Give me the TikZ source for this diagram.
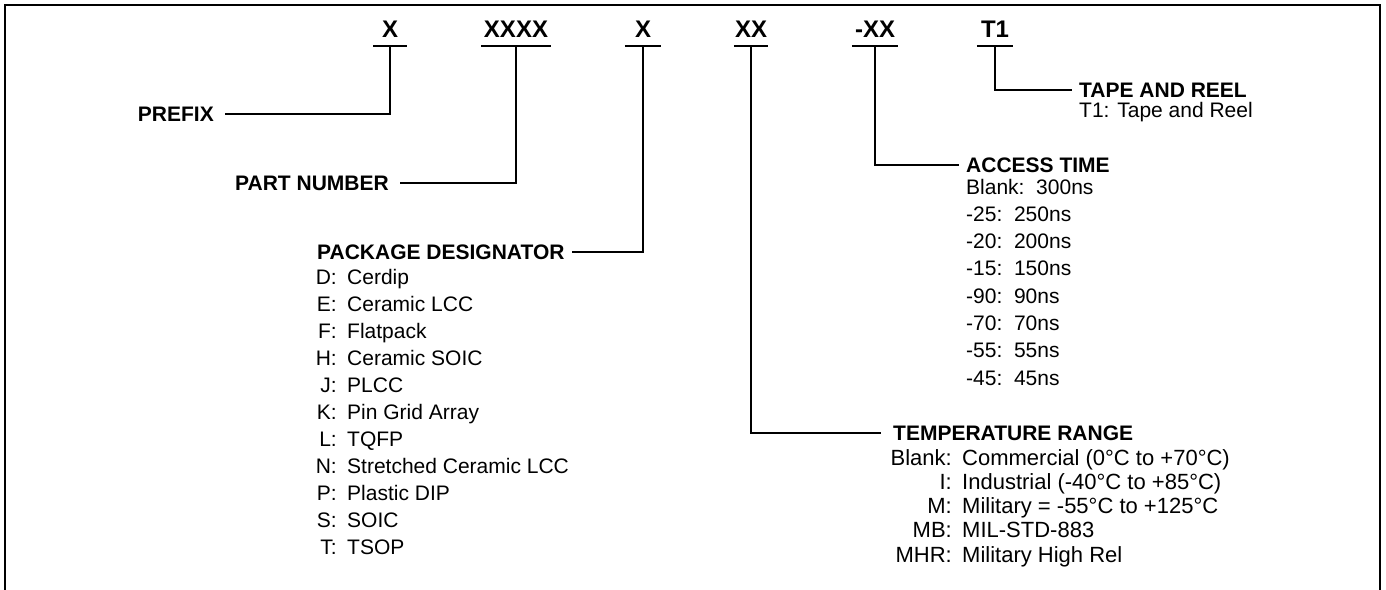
\documentclass[tikz,border=0pt]{standalone}
\usepackage{fontspec}
\setmainfont{Liberation Sans}
\begin{document}
\begin{tikzpicture}[x=1pt,y=-1pt,
  frame/.style={line width=2.4pt, line join=miter},
  conn/.style={line width=1.7pt},
  uline/.style={line width=2pt},
  code/.style={font=\fontsize{24}{24}\selectfont\bfseries, inner sep=0pt, text depth=8pt, anchor=south},
  hd/.style={font=\fontsize{21}{25}\selectfont\bfseries, inner ysep=0pt, inner xsep=7pt},
  txt/.style={font=\fontsize{21}{25}\selectfont, inner sep=0pt},
  ttxt/.style={font=\fontsize{22}{25}\selectfont, inner sep=0pt}]
\useasboundingbox (0,0) rectangle (1386,589);
% frame (open at the bottom)
\draw[frame] (5,590) -- (5,4.7) -- (1380,4.7) -- (1380,590);

% code fields
\node[code, minimum width=33pt] (c1) at (390,46) {X};
\node[code, minimum width=69pt] (c2) at (516,46) {XXXX};
\node[code, minimum width=36pt] (c3) at (643,46) {X};
\node[code, minimum width=34pt] (c4) at (751,46) {XX};
\node[code, minimum width=46pt] (c5) at (875,46) {-XX};
\node[code, minimum width=36pt] (c6) at (995,46) {T1};
\foreach \c in {c1,c2,c3,c4,c5,c6}
  \draw[uline] (\c.south west) -- (\c.south east);

% headings
\node[hd, inner xsep=11pt, anchor=base east] (prefix) at (225,121) {PREFIX};
\node[hd, inner xsep=11pt, anchor=base east] (part) at (400,190) {PART NUMBER};
\node[hd, anchor=base west] (pkg) at (310,259) {PACKAGE DESIGNATOR};
\node[hd, inner xsep=12pt, anchor=base west] (temp) at (881,440) {TEMPERATURE RANGE};
\node[hd, anchor=base west] (acc) at (959,172) {ACCESS TIME};
\node[hd, anchor=base west] (tape) at (1072,97) {TAPE AND REEL};

% connectors
\draw[conn] (c1.south) |- (prefix.east);
\draw[conn] (c2.south) |- (part.east);
\draw[conn] (c3.south) |- (pkg.east);
\draw[conn] (c4.south) |- (temp.west);
\draw[conn] (c5.south) |- (acc.west);
\draw[conn] (c6.south) |- (tape.west);

% tape and reel
\node[txt, anchor=base west] (tape1) at (1079,117) {T1: Tape and Reel};

% package designator list
\foreach \l/\d [count=\i from 0] in {D/Cerdip, E/Ceramic LCC, F/Flatpack, H/Ceramic SOIC, J/PLCC, K/Pin Grid Array, L/TQFP, N/Stretched Ceramic LCC, P/Plastic DIP, S/SOIC, T/TSOP}{
  \node[txt, anchor=base east] (pkl\i) at (337,{284.5+27*\i}) {\l:};
  \node[txt, anchor=base west] (pkd\i) at (347,{284.5+27*\i}) {\d};
}

% access time list
\foreach \t [count=\i from 0] in {Blank:\ \ 300ns, -25:\ \ 250ns, -20:\ \ 200ns, -15:\ \ 150ns, -90:\ \ 90ns, -70:\ \ 70ns, -55:\ \ 55ns, -45:\ \ 45ns}{
  \node[txt, anchor=base west] (acl\i) at (966,{194+27.3*\i}) {\t};
}

% temperature range list
\foreach \l/\d [count=\i from 0] in {Blank/Commercial (0°C to +70°C), I/Industrial (-40°C to +85°C), M/Military = -55°C to +125°C, MB/MIL-STD-883, MHR/Military High Rel}{
  \node[ttxt, anchor=base east] (tpl\i) at (952,{465+24.25*\i}) {\l:};
  \node[ttxt, anchor=base west] (tpd\i) at (962,{465+24.25*\i}) {\d};
}
\end{tikzpicture}
\end{document}
